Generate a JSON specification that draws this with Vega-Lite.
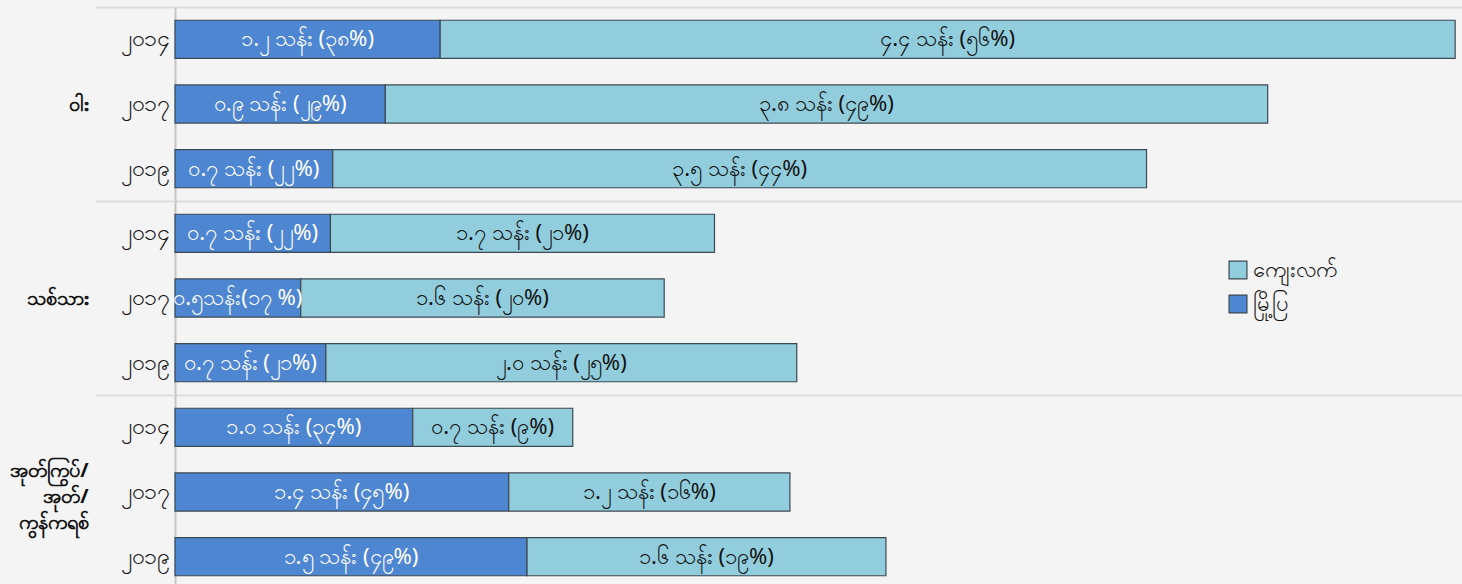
{
  "$schema": "https://vega.github.io/schema/vega-lite/v6.json",
  "width": 1287,
  "height": 582,
  "autosize": {"type": "none"},
  "padding": {"left": 175, "top": 7, "right": 0, "bottom": 0},
  "background": "#f4f4f4",
  "config": {
    "view": {"stroke": null},
    "font": "Noto Sans, sans-serif"
  },
  "datasets": {
    "bars": [
      {"row": "a၂၀၁၄", "cat": "ဝါး", "zone": "မြို့ပြ", "value": 1.16, "label": "၁.၂ သန်း (၃၈%)"},
      {"row": "a၂၀၁၄", "cat": "ဝါး", "zone": "ကျေးလက်", "value": 4.44, "label": "၄.၄ သန်း (၅၆%)"},
      {"row": "b၂၀၁၇", "cat": "ဝါး", "zone": "မြို့ပြ", "value": 0.92, "label": "၀.၉ သန်း (၂၉%)"},
      {"row": "b၂၀၁၇", "cat": "ဝါး", "zone": "ကျေးလက်", "value": 3.86, "label": "၃.၈ သန်း (၄၉%)"},
      {"row": "c၂၀၁၉", "cat": "ဝါး", "zone": "မြို့ပြ", "value": 0.69, "label": "၀.၇ သန်း (၂၂%)"},
      {"row": "c၂၀၁၉", "cat": "ဝါး", "zone": "ကျေးလက်", "value": 3.56, "label": "၃.၅ သန်း (၄၄%)"},
      {"row": "d၂၀၁၄", "cat": "သစ်သား", "zone": "မြို့ပြ", "value": 0.68, "label": "၀.၇ သန်း (၂၂%)"},
      {"row": "d၂၀၁၄", "cat": "သစ်သား", "zone": "ကျေးလက်", "value": 1.68, "label": "၁.၇ သန်း (၂၁%)"},
      {"row": "e၂၀၁၇", "cat": "သစ်သား", "zone": "မြို့ပြ", "value": 0.55, "label": "၀.၅သန်း(၁၇ %)"},
      {"row": "e၂၀၁၇", "cat": "သစ်သား", "zone": "ကျေးလက်", "value": 1.59, "label": "၁.၆ သန်း (၂၀%)"},
      {"row": "f၂၀၁၉", "cat": "သစ်သား", "zone": "မြို့ပြ", "value": 0.66, "label": "၀.၇ သန်း (၂၁%)"},
      {"row": "f၂၀၁၉", "cat": "သစ်သား", "zone": "ကျေးလက်", "value": 2.06, "label": "၂.၀ သန်း (၂၅%)"},
      {"row": "g၂၀၁၄", "cat": "အုတ်ကြွပ်/အုတ်/ကွန်ကရစ်", "zone": "မြို့ပြ", "value": 1.04, "label": "၁.၀ သန်း (၃၄%)"},
      {"row": "g၂၀၁၄", "cat": "အုတ်ကြွပ်/အုတ်/ကွန်ကရစ်", "zone": "ကျေးလက်", "value": 0.70, "label": "၀.၇ သန်း (၉%)"},
      {"row": "h၂၀၁၇", "cat": "အုတ်ကြွပ်/အုတ်/ကွန်ကရစ်", "zone": "မြို့ပြ", "value": 1.46, "label": "၁.၄ သန်း (၄၅%)"},
      {"row": "h၂၀၁၇", "cat": "အုတ်ကြွပ်/အုတ်/ကွန်ကရစ်", "zone": "ကျေးလက်", "value": 1.23, "label": "၁.၂ သန်း (၁၆%)"},
      {"row": "i၂၀၁၉", "cat": "အုတ်ကြွပ်/အုတ်/ကွန်ကရစ်", "zone": "မြို့ပြ", "value": 1.54, "label": "၁.၅ သန်း (၄၉%)"},
      {"row": "i၂၀၁၉", "cat": "အုတ်ကြွပ်/အုတ်/ကွန်ကရစ်", "zone": "ကျေးလက်", "value": 1.57, "label": "၁.၆ သန်း (၁၉%)"}
    ],
    "cats": [
      {"cat": "ဝါး"},
      {"cat": "သစ်သား"},
      {"cat": "အုတ်ကြွပ်/အုတ်/ကွန်ကရစ်"}
    ]
  },
  "layer": [
    {
      "data": {"name": "bars"},
      "transform": [
        {"stack": "value", "groupby": ["row"], "sort": [{"field": "zone", "order": "descending"}], "as": ["x0", "x1"]},
        {"calculate": "(datum.x0 + datum.x1) / 2", "as": "xmid"}
      ],
      "encoding": {
        "y": {
          "field": "row",
          "type": "nominal",
          "scale": {"paddingInner": 0.41, "paddingOuter": 0.205},
          "axis": {
            "orient": "left",
            "title": null,
            "labelExpr": "substring(datum.label, 1)",
            "ticks": false,
            "domain": true,
            "domainColor": "#c4c4c4",
            "domainWidth": 2,
            "labelPadding": 7,
            "labelFontSize": 23,
            "labelColor": "#111111",
            "labelFont": "Noto Sans, sans-serif",
            "labelFontWeight": "normal",
            "grid": false
          }
        }
      },
      "layer": [
        {
          "mark": {"type": "bar", "stroke": "#3b4a52", "strokeWidth": 1.2},
          "encoding": {
            "x": {"field": "x0", "type": "quantitative", "scale": {"domain": [0, 5.63], "nice": false}, "axis": null},
            "x2": {"field": "x1"},
            "color": {
              "field": "zone",
              "type": "nominal",
              "scale": {"domain": ["ကျေးလက်", "မြို့ပြ"], "range": ["#92cddd", "#4f86d1"]},
              "legend": {
                "title": null,
                "orient": "none",
                "legendX": 1052,
                "legendY": 252,
                "symbolType": "square",
                "symbolSize": 320,
                "symbolStrokeColor": "#3b4a52",
                "symbolStrokeWidth": 1.2,
                "symbolOpacity": 1,
                "labelFontSize": 22,
                "labelColor": "#111111",
                "rowPadding": 10,
                "labelOffset": 4
              }
            }
          }
        },
        {
          "mark": {"type": "text", "fontSize": 22, "fontWeight": "normal", "align": "center", "baseline": "middle"},
          "encoding": {
            "x": {"field": "xmid", "type": "quantitative"},
            "text": {"field": "label"},
            "color": {"condition": {"test": "datum.zone == 'မြို့ပြ'", "value": "#ffffff"}, "value": "#111111"}
          }
        }
      ]
    },
    {
      "data": {"name": "cats"},
      "mark": {"type": "tick", "opacity": 0},
      "encoding": {
        "y": {
          "field": "cat",
          "type": "nominal",
          "sort": null,
          "scale": {"paddingInner": 0, "paddingOuter": 0},
          "axis": {
            "orient": "left",
            "title": null,
            "tickBand": "extent",
            "ticks": true,
            "tickSize": 80,
            "tickColor": "#dcdcdc",
            "tickWidth": 2,
            "grid": true,
            "gridColor": "#dcdcdc",
            "gridWidth": 2,
            "domain": false,
            "labelPadding": 7,
            "labelFontSize": 20,
            "labelFontWeight": "bold",
            "labelColor": "#111111",
            "labelLineHeight": 26,
            "labelBaseline": "middle",
            "labelOffset": {"condition": {"test": "datum.value == 'အုတ်ကြွပ်/အုတ်/ကွန်ကရစ်'", "value": -22}, "value": 0},
            "labelExpr": "datum.value == 'အုတ်ကြွပ်/အုတ်/ကွန်ကရစ်' ? ['အုတ်ကြွပ်/', 'အုတ်/', 'ကွန်ကရစ်'] : datum.label"
          }
        }
      }
    }
  ],
  "resolve": {"scale": {"y": "independent"}, "axis": {"y": "independent"}}
}
